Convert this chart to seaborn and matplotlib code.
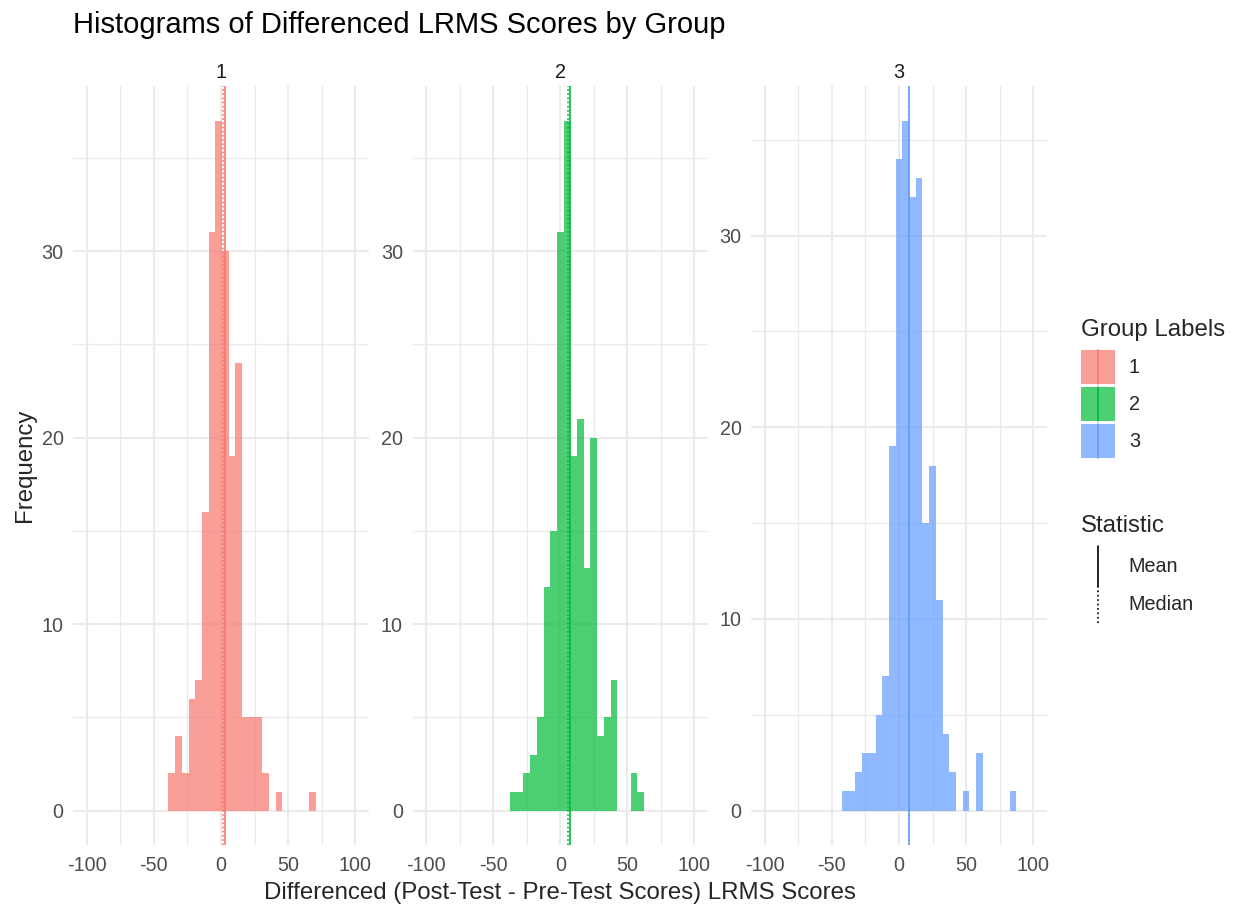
import numpy as np
import pandas as pd
import matplotlib
matplotlib.use("Agg")
import matplotlib.pyplot as plt
import seaborn as sns
from matplotlib.legend_handler import HandlerBase
from matplotlib.patches import Rectangle, Patch
from matplotlib.lines import Line2D
from matplotlib.colors import to_rgba

# ---------------- data ----------------
groups = ["1", "2", "3"]
colors = ["#F8766D", "#00BA38", "#619CFF"]
bin_width = 5
bin_starts = [-39.2, -37.5, -42.5]
counts_1 = [2, 4, 2, 6, 7, 16, 31, 37, 30, 19, 24, 5, 5, 5, 2, 0, 1, 0, 0, 0, 0, 1]
counts_2 = [1, 1, 2, 3, 5, 12, 15, 31, 37, 19, 21, 13, 20, 4, 5, 7, 0, 0, 2, 1]
counts_3 = [1, 1, 2, 3, 3, 5, 7, 19, 34, 36, 32, 33, 15, 18, 11, 4, 2, 0, 1, 0, 3,
            0, 0, 0, 0, 1]
group_means = [2.8, 7.4, 7.6]
group_medians = [1.3, 5.5, 7.6]
x_ticks = [-100, -50, 0, 50, 100]
y_ticks = [0, 10, 20, 30]

title = "Histograms of Differenced LRMS Scores by Group"
x_label = "Differenced (Post-Test - Pre-Test Scores) LRMS Scores"
y_label = "Frequency"
legend1_title = "Group Labels"
legend2_title = "Statistic"
stat_labels = ["Mean", "Median"]

all_counts = [counts_1, counts_2, counts_3]

# ---------------- style ----------------
sns.set_style("white")
plt.rcParams["font.family"] = ["Liberation Sans", "DejaVu Sans"]
plt.rcParams["axes.unicode_minus"] = False

W, H = 1236, 910
fig = plt.figure(figsize=(W / 100, H / 100), dpi=100)

def fx(px):
    return px / W

def fy(py):
    return 1 - py / H

panel_left = [73.4, 412.7, 751.4]
panel_w = 295.2
panel_top, panel_bot = 86, 845

grid_col = "#EBEBEB"
tick_col = "#4D4D4D"

for i, g in enumerate(groups):
    counts = np.array(all_counts[i], dtype=float)
    edges = bin_starts[i] + bin_width * np.arange(len(counts) + 1)
    centers = (edges[:-1] + edges[1:]) / 2
    df = pd.DataFrame({"score": centers, "count": counts})
    ax = fig.add_axes([fx(panel_left[i]), fy(panel_bot), fx(panel_w),
                       (panel_bot - panel_top) / H])
    ax.set_axisbelow(True)
    sns.histplot(data=df, x="score", weights="count", bins=list(edges), ax=ax,
                 color=colors[i], alpha=0.7, linewidth=0, edgecolor="none")
    ax.axvline(group_means[i], color=colors[i], lw=1.2, ls="-")
    ax.axvline(group_medians[i], color=colors[i], lw=1.2, ls=(0, (1, 1.5)))
    ymax = counts.max()
    ax.set_xlim(-110, 110)
    ax.set_ylim(-0.05 * ymax, 1.05 * ymax)
    ax.set_xticks(x_ticks)
    ax.set_xticks([-75, -25, 25, 75], minor=True)
    ax.set_yticks(y_ticks)
    ax.set_yticks([5, 15, 25, 35], minor=True)
    ax.grid(True, which="major", color=grid_col, lw=1.5)
    ax.grid(True, which="minor", color=grid_col, lw=1.0)
    ax.tick_params(which="both", length=0)
    ax.tick_params(axis="both", labelsize=14.2, labelcolor=tick_col)
    ax.tick_params(axis="x", pad=8)
    ax.tick_params(axis="y", pad=7)
    for s in ax.spines.values():
        s.set_visible(False)
    ax.set_xlabel("")
    ax.set_ylabel("")
    ax.set_title(g, fontsize=14.2, color="#1A1A1A", pad=6)

fig.text(fx(73.4), fy(11), title, fontsize=21, ha="left", va="top", color="black")
fig.text(fx(560), fy(893), x_label, fontsize=17.3, ha="center", va="center")
fig.text(fx(25), fy(465.5), y_label, fontsize=17.3, ha="center", va="center",
         rotation=90)

# ---------------- legends ----------------
class GroupKeyHandler(HandlerBase):
    def create_artists(self, legend, orig_handle, xdescent, ydescent, width,
                       height, fontsize, trans):
        rect = Rectangle((-xdescent, -ydescent), width, height,
                         facecolor=orig_handle.get_facecolor(),
                         edgecolor="none", transform=trans)
        x = -xdescent + width / 2
        line = Line2D([x, x], [-ydescent, -ydescent + height],
                      color=orig_handle.get_edgecolor(), lw=1.2, transform=trans)
        return [rect, line]


class VLineHandler(HandlerBase):
    def create_artists(self, legend, orig_handle, xdescent, ydescent, width,
                       height, fontsize, trans):
        x = -xdescent + width / 2
        line = Line2D([x, x], [-ydescent - 2, -ydescent + height + 2],
                      color=orig_handle.get_color(),
                      linestyle=orig_handle.get_linestyle(),
                      lw=orig_handle.get_linewidth(), transform=trans)
        return [line]


fig.text(fx(1081), fy(336), legend1_title, fontsize=17.3, ha="left",
         va="baseline")
group_handles = [Patch(facecolor=to_rgba(c, 0.7), edgecolor=c) for c in colors]
leg1 = fig.legend(group_handles, groups,
                  loc="upper left", bbox_to_anchor=(fx(1081), fy(350)),
                  frameon=False, fontsize=14.2,
                  handlelength=1.72, handleheight=2.28, labelspacing=0.15,
                  handletextpad=0.7, borderpad=0, borderaxespad=0,
                  handler_map={Patch: GroupKeyHandler()})

fig.text(fx(1081), fy(532), legend2_title, fontsize=17.3, ha="left",
         va="baseline")
stat_handles = [Line2D([0], [0], color="black", lw=1.2, ls="-"),
                Line2D([0], [0], color="black", lw=1.2, ls=":")]
leg2 = fig.legend(stat_handles, stat_labels,
                  loc="upper left", bbox_to_anchor=(fx(1081), fy(549)),
                  frameon=False, fontsize=14.2,
                  handlelength=1.72, handleheight=2.28, labelspacing=0.18,
                  handletextpad=0.7, borderpad=0, borderaxespad=0,
                  handler_map={Line2D: VLineHandler()})

fig.savefig("out.png", dpi=100)
